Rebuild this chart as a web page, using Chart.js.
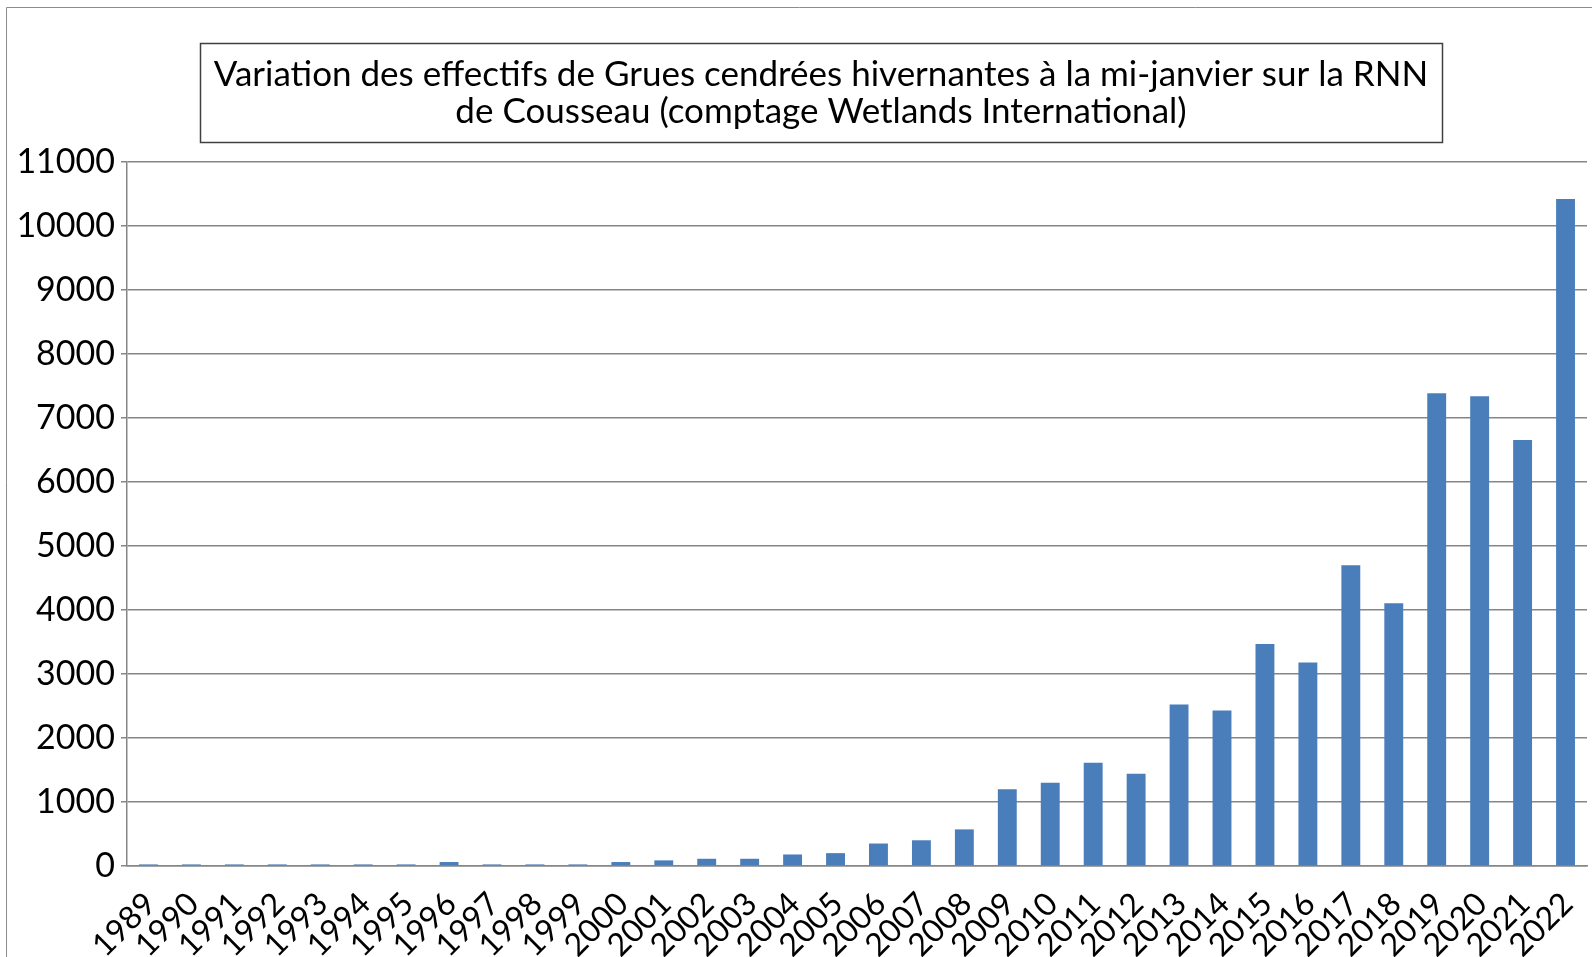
<!DOCTYPE html>
<html>
<head>
<meta charset="utf-8">
<script src="https://cdn.jsdelivr.net/npm/chart.js@4"></script>
<style>
  html, body { margin: 0; padding: 0; background: #fff; }
  #wrap { width: 1592px; height: 957px; position: relative; }
</style>
</head>
<body>
<div id="wrap"><canvas id="grues"></canvas></div>
<script>
const years = ["1989", "1990", "1991", "1992", "1993", "1994", "1995", "1996", "1997", "1998", "1999",
    "2000", "2001", "2002", "2003", "2004", "2005", "2006", "2007", "2008", "2009", "2010",
    "2011", "2012", "2013", "2014", "2015", "2016", "2017", "2018", "2019", "2020", "2021", "2022"];
const effectifs = [25, 25, 25, 25, 25, 25, 25, 62, 25, 25, 25,
    62, 88, 113, 113, 180, 201, 351, 402, 572, 1201, 1299,
    1613, 1443, 2524, 2429, 3468, 3181, 4700, 4107, 7388, 7341, 6655, 10420];
const titleLines = [
    "Variation des effectifs de Grues cendrées hivernantes à la mi-janvier sur la RNN",
    "de Cousseau (comptage Wetlands International)"
];
const yMax = 11000;
const yStep = 1000;

const FONT = "Lato, 'Noto Sans', sans-serif";

// cadre extérieur + titre encadré
const decor = {
    id: "decor",
    beforeDraw(chart) {
        const c = chart.ctx;
        c.save();
        c.fillStyle = "#fff";
        c.fillRect(0, 0, chart.width, chart.height);
        c.strokeStyle = "#8c8c8c";
        c.lineWidth = 1;
        c.beginPath();
        c.moveTo(6.5, chart.height);
        c.lineTo(6.5, 7.5);
        c.lineTo(chart.width, 7.5);
        c.stroke();
        c.restore();
    },
    afterDraw(chart) {
        const c = chart.ctx;
        c.save();
        c.strokeStyle = "#404040";
        c.lineWidth = 1.5;
        c.strokeRect(200.5, 43.5, 1242, 99);
        c.fillStyle = "#000";
        c.font = "35px " + FONT;
        c.textAlign = "center";
        c.textBaseline = "middle";
        c.fillText(titleLines[0], 821, 75);
        c.fillText(titleLines[1], 821, 112);
        c.restore();
    }
};

const ctx = document.getElementById("grues").getContext("2d");
const chart = new Chart(ctx, {
    type: "bar",
    data: {
        labels: years,
        datasets: [
            {
                label: "Grues cendrées",
                data: effectifs,
                backgroundColor: "#4a7ebb",
                borderWidth: 0,
                categoryPercentage: 0.44,
                barPercentage: 1,
            },
        ],
    },
    options: {
        responsive: true,
        maintainAspectRatio: false,
        animation: false,
        layout: {
            padding: { top: 162, left: 5, right: 5, bottom: 0 },
        },
        scales: {
            x: {
                grid: { display: false, drawTicks: false },
                border: { display: true, color: "#868686", width: 1.5 },
                ticks: {
                    autoSkip: false,
                    minRotation: 45,
                    maxRotation: 45,
                    padding: 19,
                    labelOffset: 2,
                    color: "#000",
                    font: { family: FONT, size: 32 },
                },
                afterFit: (s) => {
                    s.height = 957 - 866;
                    s.paddingLeft = 0;
                    s.paddingRight = 0;
                },
            },
            y: {
                min: 0,
                max: yMax,
                grid: { color: "#868686", lineWidth: 1.5, tickLength: 6 },
                border: { display: true, color: "#868686", width: 1.5 },
                ticks: {
                    stepSize: yStep,
                    padding: 6,
                    color: "#000",
                    font: { family: FONT, size: 34 },
                    callback: (v) => String(v),
                },
                afterFit: (s) => { s.width = 127 - 5; },
            },
        },
        plugins: {
            legend: { display: false },
            title: { display: false },
            tooltip: { enabled: false },
        },
    },
    plugins: [decor],
});
</script>
</body>
</html>
